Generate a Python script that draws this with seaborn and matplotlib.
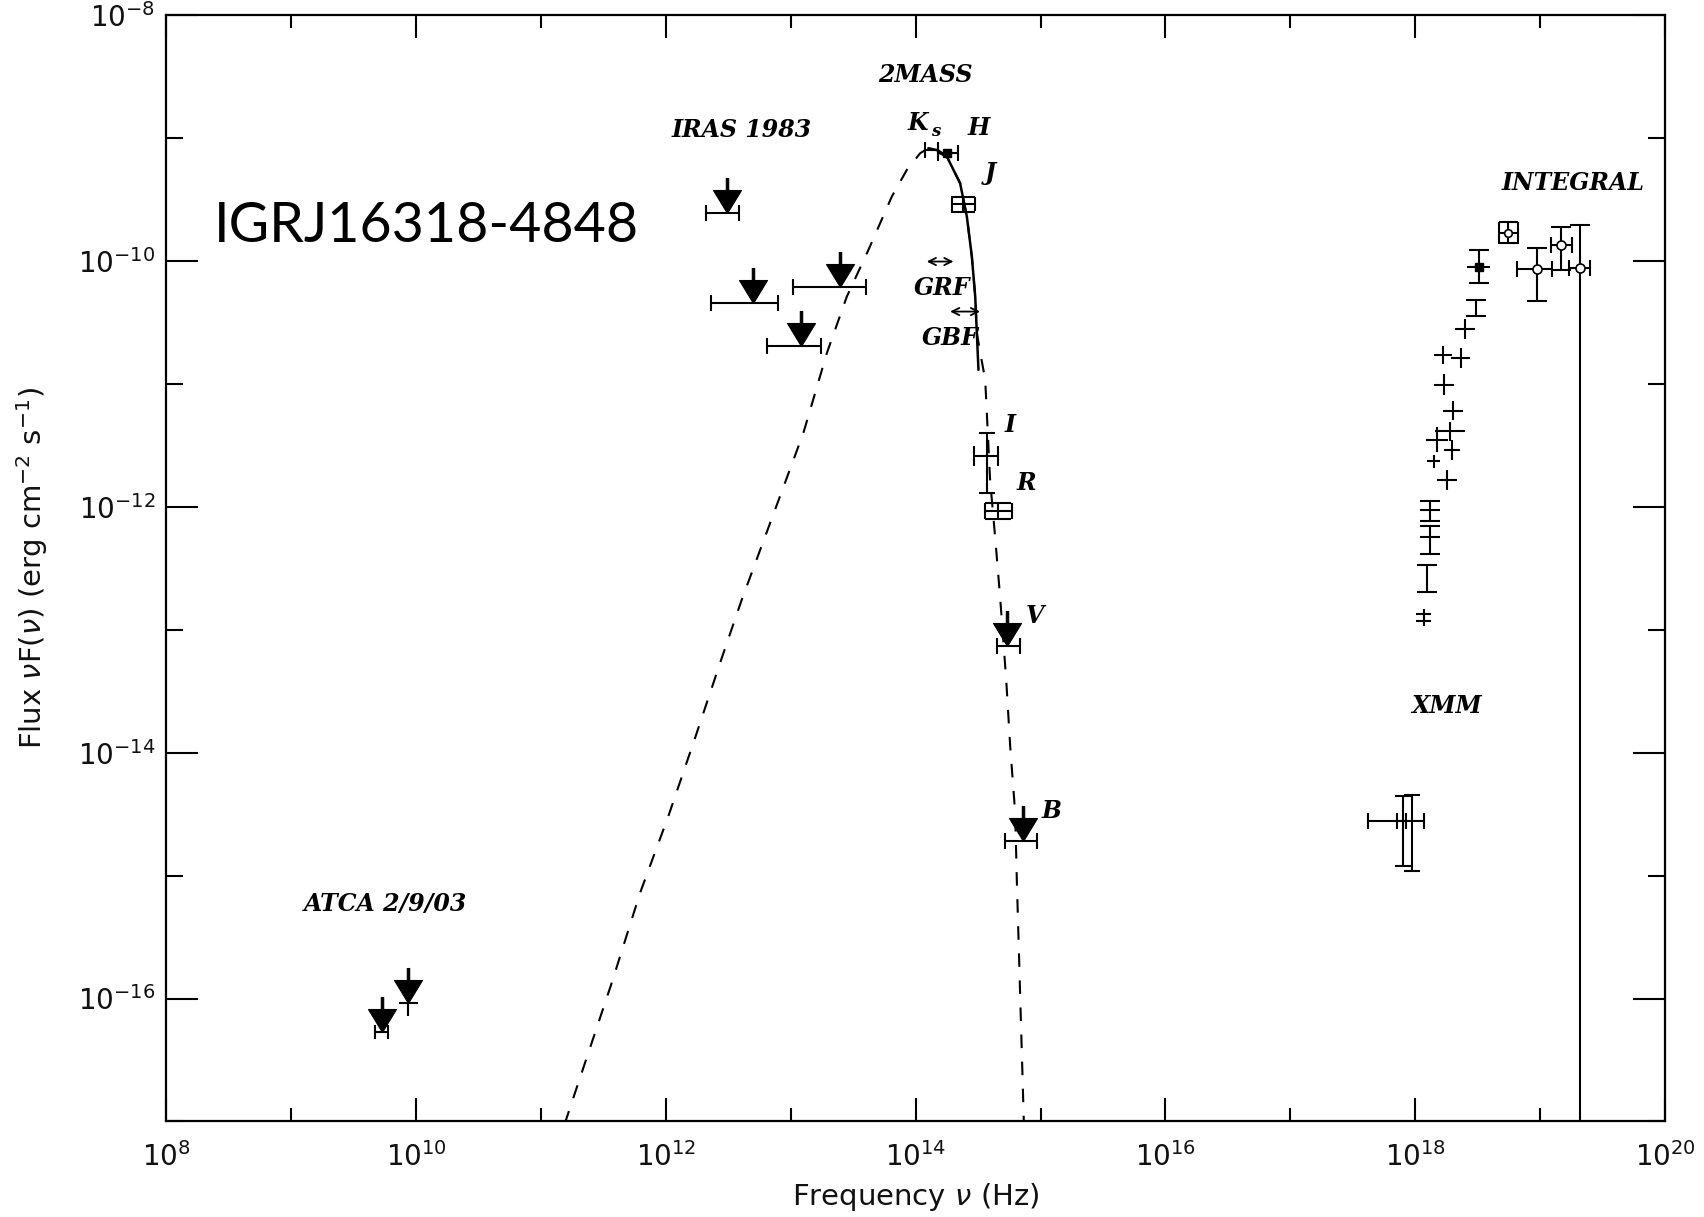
import numpy as np
import matplotlib
matplotlib.use("Agg")
import matplotlib.pyplot as plt
from matplotlib.path import Path
from matplotlib.ticker import FixedLocator, FixedFormatter, NullFormatter
import seaborn as sns
import pandas as pd

# ---------------- data (log10 of frequency [Hz] and of nuF(nu) [erg cm^-2 s^-1]) ----------------
# model spectrum (dashed) and fit over the near-infrared (solid)
model_lognu = [11.19, 11.233, 11.567, 11.794, 12.020, 12.234, 12.448, 12.608, 12.835, 13.101,
               13.289, 13.449, 13.622, 13.809, 13.929, 14.036, 14.102, 14.250, 14.356, 14.410,
               14.450, 14.477, 14.490, 14.520, 14.557, 14.570, 14.596, 14.636, 14.676, 14.725,
               14.757, 14.797, 14.810, 14.866, 14.870]
model_logf = [-17.02, -16.887, -15.871, -15.139, -14.516, -13.879, -13.228, -12.754, -12.131, -11.399,
              -10.749, -10.289, -9.909, -9.476, -9.259, -9.123, -9.082, -9.150, -9.367, -9.638,
              -9.963, -10.289, -10.586, -10.760, -10.966, -11.237, -11.779, -12.240, -12.728, -13.405,
              -13.947, -14.489, -15.031, -16.994, -17.10]
fit_lognu = [14.102, 14.180, 14.250, 14.356, 14.410, 14.450, 14.477, 14.490, 14.503]
fit_logf = [-9.082, -9.100, -9.150, -9.367, -9.638, -9.963, -10.289, -10.586, -10.885]

# ATCA 2/9/03 radio upper limits
atca_lognu = [9.725, 9.938]
atca_lognu_lo = [9.671, 9.866]
atca_lognu_hi = [9.778, 10.018]
atca_logf = [-16.27, -16.04]

# IRAS 1983 upper limits
iras_lognu = [12.488, 12.701, 13.083, 13.395]
iras_lognu_lo = [12.322, 12.362, 12.813, 13.021]
iras_lognu_hi = [12.589, 12.896, 13.243, 13.601]
iras_logf = [-9.611, -10.342, -10.689, -10.215]

# 2MASS Ks, H, J
nir_bands = ["Ks", "H", "J"]
nir_lognu = [14.116, 14.250, 14.383]
nir_lognu_lo = [14.076, 14.178, 14.290]
nir_lognu_hi = [14.182, 14.338, 14.476]
nir_logf = [-9.096, -9.123, -9.535]
nir_logf_lo = [-9.096, -9.123, -9.598]
nir_logf_hi = [-9.096, -9.123, -9.476]

# optical I, R detections
opt_bands = ["I", "R"]
opt_lognu = [14.570, 14.663]
opt_lognu_lo = [14.468, 14.556]
opt_lognu_hi = [14.663, 14.770]
opt_logf = [-11.589, -12.037]
opt_logf_lo = [-11.887, -12.098]
opt_logf_hi = [-11.400, -11.968]

# optical V, B upper limits
optlim_bands = ["V", "B"]
optlim_lognu = [14.735, 14.863]
optlim_lognu_lo = [14.650, 14.716]
optlim_lognu_hi = [14.837, 14.970]
optlim_logf = [-13.134, -14.720]

# XMM spectrum: bins without caps
xmm_lognu = [18.400, 18.222, 18.366, 18.227, 18.302, 18.275, 18.294, 18.147, 18.254, 18.174,
             18.067, 18.067]
xmm_dlognu = [0.08, 0.07, 0.076, 0.08, 0.08, 0.12, 0.065, 0.055, 0.08, 0.09, 0.06, 0.06]
xmm_logf = [-10.554, -10.763, -10.790, -11.007, -11.216, -11.386, -11.535, -11.630, -11.779, -11.454,
            -12.870, -12.930]
xmm_dlogf = [0.08, 0.074, 0.08, 0.085, 0.08, 0.08, 0.08, 0.05, 0.08, 0.10, 0.04, 0.04]

# XMM spectrum: bins with capped flux errors
xmmc_lognu = [18.507, 18.488, 18.115, 18.115, 18.094]
xmmc_dlognu = [0.09, 0.0, 0.08, 0.08, 0.0]
xmmc_logf = [-10.045, -10.383, -12.023, -12.245, -12.578]
xmmc_logf_lo = [-10.180, -10.451, -12.117, -12.380, -12.695]
xmmc_logf_hi = [-9.909, -10.315, -11.954, -12.153, -12.470]

# XMM low-energy points
xlow_lognu = [17.901, 17.973]
xlow_lognu_lo = [17.626, 17.853]
xlow_lognu_hi = [17.930, 18.067]
xlow_logf = [-14.557, -14.557]
xlow_logf_lo = [-14.923, -14.963]
xlow_logf_hi = [-14.354, -14.340]

# INTEGRAL
intb_lognu = [18.747]
intb_lognu_lo = [18.671]
intb_lognu_hi = [18.823]
intb_logf = [-9.768]
intb_logf_lo = [-9.856]
intb_logf_hi = [-9.680]

int_lognu = [18.975, 19.167, 19.316]
int_lognu_lo = [18.815, 19.089, 19.228]
int_lognu_hi = [19.095, 19.255, 19.396]
int_logf = [-10.066, -9.868, -10.058]
int_logf_lo = [-10.329, -10.072, -20.0]
int_logf_hi = [-9.895, -9.720, -9.706]

# axes
x_tick_exp = [8, 10, 12, 14, 16, 18, 20]
x_minor_exp = [9, 11, 13, 15, 17, 19]
y_tick_exp = [-16, -14, -12, -10, -8]
y_minor_exp = [-17, -15, -13, -11, -9]
x_tick_labels = [r"$10^{%d}$" % e for e in x_tick_exp]
y_tick_labels = [r"$10^{%d}$" % e for e in y_tick_exp]

# ---------------- styling ----------------
sns.set_theme(style="ticks")
plt.rcParams["font.family"] = ["DejaVu Sans"]
plt.rcParams["mathtext.fontset"] = "dejavusans"

BLACK = "black"
LW = 1.5
PX = 0.72  # points per pixel at 100 dpi

fig = plt.figure(figsize=(17.04, 12.17), dpi=100)
fig.patch.set_facecolor("white")
ax = fig.add_axes([0.0976, 0.0785, 0.8795, 0.909])
ax.set_facecolor("white")
ax.set_xscale("log")
ax.set_yscale("log")
ax.set_xlim(1e8, 1e20)
ax.set_ylim(1e-17, 1e-8)


def p10(v):
    return np.power(10.0, np.asarray(v, dtype=float))


def draw_errors(lx, ly, xlo=None, xhi=None, ylo=None, yhi=None, capx=0.0, capy=0.0, lw=LW):
    """Error bars from log10 bounds; capx for the horizontal bar ends, capy for the vertical ones."""
    x, y = p10(lx), p10(ly)
    if xlo is not None:
        xerr = np.vstack([x - p10(xlo), p10(xhi) - x])
        ax.errorbar(x, y, xerr=xerr, fmt="none", ecolor=BLACK, elinewidth=lw,
                    capsize=capx, capthick=lw, zorder=3)
    if ylo is not None:
        yerr = np.vstack([y - p10(ylo), p10(yhi) - y])
        ax.errorbar(x, y, yerr=yerr, fmt="none", ecolor=BLACK, elinewidth=lw,
                    capsize=capy, capthick=lw, zorder=3)


def limit_marker():
    """Downward arrow: filled triangle whose tip sits on the data point, with a stem above."""
    verts = [(0, 0), (-14, 23), (14, 23), (0, 0),
             (-1.2, 23), (1.2, 23), (1.2, 35), (-1.2, 35), (-1.2, 23)]
    codes = [Path.MOVETO, Path.LINETO, Path.LINETO, Path.CLOSEPOLY,
             Path.MOVETO, Path.LINETO, Path.LINETO, Path.LINETO, Path.CLOSEPOLY]
    return Path(verts, codes)


LIM_MS = 2 * 35 * PX

# ---- model curves ----
model_df = pd.DataFrame({"nu": p10(model_lognu), "flux": p10(model_logf)})
fit_df = pd.DataFrame({"nu": p10(fit_lognu), "flux": p10(fit_logf)})
sns.lineplot(data=model_df, x="nu", y="flux", sort=False, color=BLACK, lw=1.5,
             dashes=False, ax=ax, zorder=2).lines[-1].set_dashes((6.5, 6.5))
sns.lineplot(data=fit_df, x="nu", y="flux", sort=False, color=BLACK, lw=1.8, ax=ax, zorder=2)

# ---- ATCA ----
draw_errors(atca_lognu[:1], atca_logf[:1], atca_lognu_lo[:1], atca_lognu_hi[:1], capx=5)
draw_errors(atca_lognu[1:], atca_logf[1:], atca_lognu_lo[1:], atca_lognu_hi[1:])
draw_errors(atca_lognu[1:], atca_logf[1:], ylo=[atca_logf[1] - 0.10], yhi=[atca_logf[1]])
ax.plot(p10(atca_lognu), p10(atca_logf), ls="none", marker=limit_marker(), ms=LIM_MS,
        color=BLACK, mew=0.8, zorder=4)

# ---- IRAS ----
draw_errors(iras_lognu, iras_logf, iras_lognu_lo, iras_lognu_hi, capx=6)
ax.plot(p10(iras_lognu), p10(iras_logf), ls="none", marker=limit_marker(), ms=LIM_MS,
        color=BLACK, mew=0.8, zorder=4)

# ---- 2MASS ----
draw_errors(nir_lognu[:2], nir_logf[:2], nir_lognu_lo[:2], nir_lognu_hi[:2], capx=6)
draw_errors(nir_lognu[2:], nir_logf[2:], nir_lognu_lo[2:], nir_lognu_hi[2:],
            nir_logf_lo[2:], nir_logf_hi[2:], capx=7.4 * PX, capy=11.6 * PX)
ax.plot(p10(nir_lognu[1:2]), p10(nir_logf[1:2]), ls="none", marker="s", ms=6, color=BLACK, zorder=4)

# ---- optical ----
draw_errors(opt_lognu[:1], opt_logf[:1], opt_lognu_lo[:1], opt_lognu_hi[:1],
            opt_logf_lo[:1], opt_logf_hi[:1], capx=7.5, capy=6)
draw_errors(opt_lognu[1:], opt_logf[1:], opt_lognu_lo[1:], opt_lognu_hi[1:],
            opt_logf_lo[1:], opt_logf_hi[1:], capx=8 * PX, capy=13.3 * PX)
draw_errors(optlim_lognu, optlim_logf, optlim_lognu_lo, optlim_lognu_hi, capx=6)
ax.plot(p10(optlim_lognu), p10(optlim_logf), ls="none", marker=limit_marker(), ms=LIM_MS,
        color=BLACK, mew=0.8, zorder=4)

# ---- XMM ----
xl = np.asarray(xmm_lognu)
xf = np.asarray(xmm_logf)
draw_errors(xl, xf, xl - np.asarray(xmm_dlognu), xl + np.asarray(xmm_dlognu),
            xf - np.asarray(xmm_dlogf), xf + np.asarray(xmm_dlogf))
cl = np.asarray(xmmc_lognu)
draw_errors(cl, xmmc_logf, cl - np.asarray(xmmc_dlognu), cl + np.asarray(xmmc_dlognu))
draw_errors(cl, xmmc_logf, ylo=xmmc_logf_lo, yhi=xmmc_logf_hi, capy=7)
ax.plot(p10(xmmc_lognu[:1]), p10(xmmc_logf[:1]), ls="none", marker="s", ms=6, color=BLACK, zorder=4)
draw_errors(xlow_lognu, xlow_logf, xlow_lognu_lo, xlow_lognu_hi,
            xlow_logf_lo, xlow_logf_hi, capx=6, capy=6)

# ---- INTEGRAL ----
draw_errors(intb_lognu, intb_logf, intb_lognu_lo, intb_lognu_hi,
            intb_logf_lo, intb_logf_hi, capx=10.8 * PX, capy=9.5 * PX)
ax.plot(p10(intb_lognu), p10(intb_logf), ls="none", marker="o", ms=5.5, mfc="white",
        mec=BLACK, mew=1.2, zorder=4)
draw_errors(int_lognu, int_logf, int_lognu_lo, int_lognu_hi,
            int_logf_lo, int_logf_hi, capx=6, capy=7)
ax.plot(p10(int_lognu), p10(int_logf), ls="none", marker="o", ms=6.5, mfc="white",
        mec=BLACK, mew=1.2, zorder=4)

# ---- ticks ----
ax.xaxis.set_major_locator(FixedLocator(p10(x_tick_exp)))
ax.xaxis.set_major_formatter(FixedFormatter(x_tick_labels))
ax.xaxis.set_minor_locator(FixedLocator(p10(x_minor_exp)))
ax.xaxis.set_minor_formatter(NullFormatter())
ax.yaxis.set_major_locator(FixedLocator(p10(y_tick_exp)))
ax.yaxis.set_major_formatter(FixedFormatter(y_tick_labels))
ax.yaxis.set_minor_locator(FixedLocator(p10(y_minor_exp)))
ax.yaxis.set_minor_formatter(NullFormatter())

ax.tick_params(which="both", direction="in", top=True, right=True, color=BLACK,
               width=1.5, labelsize=20, labelcolor="#111111")
ax.tick_params(axis="x", which="major", length=16.5, pad=15)
ax.tick_params(axis="x", which="minor", length=9.5)
ax.tick_params(axis="y", which="major", length=23, pad=8)
ax.tick_params(axis="y", which="minor", length=12)
for sp in ax.spines.values():
    sp.set_visible(True)
    sp.set_linewidth(1.6)
    sp.set_color(BLACK)

ax.set_xlabel(r"Frequency $\nu$ (Hz)", fontsize=21, color="#111111", labelpad=6)
ax.set_ylabel(r"Flux $\nu$F($\nu$) (erg cm$^{-2}$ s$^{-1}$)", fontsize=21, color="#111111",
              labelpad=20)

# ---- annotations ----
lab = dict(family="DejaVu Serif", style="italic", weight="bold", fontsize=17,
           ha="center", va="center", color=BLACK)
ax.text(p10(9.752), p10(-15.234), "ATCA 2/9/03", **lab)
ax.text(p10(12.608), p10(-8.933), "IRAS 1983", **lab)
ax.text(p10(14.075), p10(-8.488), "2MASS", **lab)
ax.text(p10(14.020), p10(-8.880), "K", **lab)
ax.annotate("s", xy=(p10(14.020), p10(-8.880)), xytext=(9, -6), textcoords="offset points",
            family="DejaVu Serif", style="italic", weight="bold", fontsize=12,
            ha="left", va="center", color=BLACK)
ax.text(p10(14.503), p10(-8.920), "H", **lab)
ax.text(p10(14.596), p10(-9.285), "J", **lab)
ax.text(p10(14.210), p10(-10.220), "GRF", **lab)
ax.text(p10(14.276), p10(-10.627), "GBF", **lab)
ax.text(p10(14.757), p10(-11.333), "I", **lab)
ax.text(p10(14.890), p10(-11.806), "R", **lab)
ax.text(p10(14.957), p10(-12.890), "V", **lab)
ax.text(p10(15.091), p10(-14.476), "B", **lab)
ax.text(p10(18.254), p10(-13.622), "XMM", **lab)
ax.text(p10(19.268), p10(-9.367), "INTEGRAL", **lab)

arrow = dict(arrowstyle="<->", color=BLACK, lw=1.3, shrinkA=0, shrinkB=0,
             mutation_scale=13)
ax.annotate("", xy=(p10(14.089), p10(-10.004)), xytext=(p10(14.303), p10(-10.004)),
            arrowprops=arrow)
ax.annotate("", xy=(p10(14.276), p10(-10.411)), xytext=(p10(14.516), p10(-10.411)),
            arrowprops=arrow)

ax.text(p10(8.382), p10(-9.722), "IGRJ16318-4848", family="Lato", fontsize=40,
        ha="left", va="center", color=BLACK)

fig.savefig("out.png", dpi=100, facecolor="white")
